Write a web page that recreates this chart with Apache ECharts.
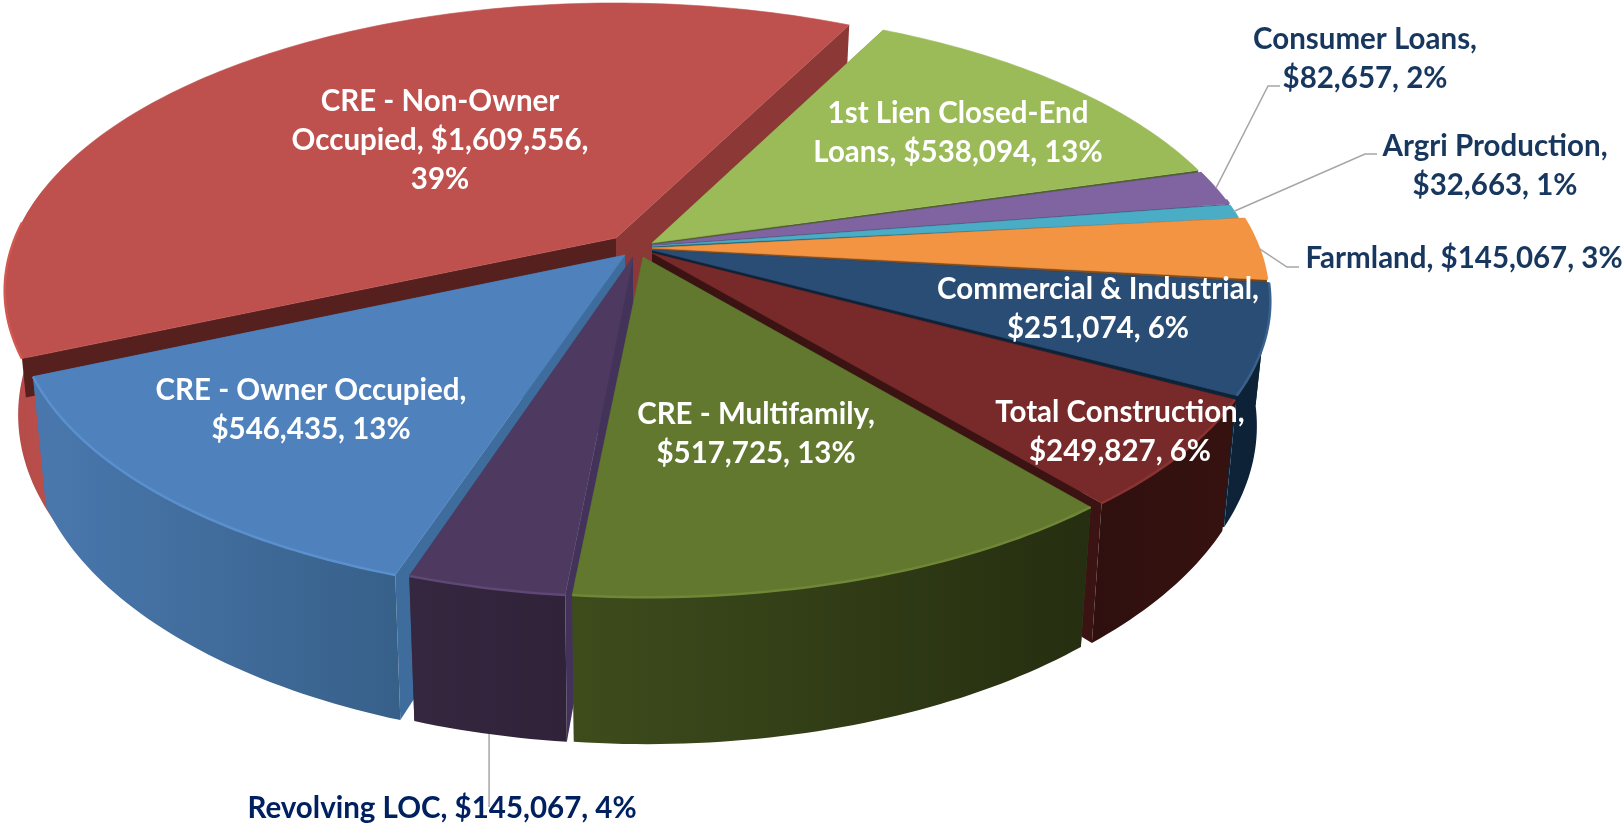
<!DOCTYPE html>
<html><head><meta charset="utf-8">
<style>html,body{margin:0;padding:0;background:#fff}#c{width:1624px;height:825px}</style>
<script src="https://cdn.jsdelivr.net/npm/echarts@6/dist/echarts.min.js"></script>
</head><body><div id="c"></div>
<script>
// ---- data (clockwise, CRE - Non-Owner first)
var categories = ['CRE - Non-Owner Occupied','1st Lien Closed-End Loans','Consumer Loans','Argri Production','Farmland','Commercial & Industrial','Total Construction','CRE - Multifamily','Revolving LOC','CRE - Owner Occupied'];
var values = [1609556,538094,82657,32663,145067,251074,249827,517725,145067,546435];
var labels = ['CRE - Non-Owner\nOccupied, $1,609,556,\n39%','1st Lien Closed-End\nLoans, $538,094, 13%','Consumer Loans,\n$82,657, 2%','Argri Production,\n$32,663, 1%','Farmland, $145,067, 3%','Commercial & Industrial,\n$251,074, 6%','Total Construction,\n$249,827, 6%','CRE - Multifamily,\n$517,725, 13%','Revolving LOC, $145,067, 4%','CRE - Owner Occupied,\n$546,435, 13%'];

// ---- projection of the tilted disc
var CX=651, CY=248, RX=600, RY=278, K=0.183, DEPTH=120, SHRINK=0.978;
var START_DEG=156.3;   // picture angle of the first slice's leading edge
var paintOrder=[0,1,2,3,4,5,6,9,8,7];
var shift=[[-36,-10],[-2,-5],[1,-3],[1,-2],[7,-2],[9,1],[7,5],[-4,9],[-11,9],[-25,8]];
var tipOffset=[[-35,-10],[1,-5],[1,-3],[1,-2],[1,0],[1,2],[1,5],[-8,9],[-18,9],[-26,7]];
var startDepth=[0.3,1,1,1,1,1,1,1,1,1];
var wallLead=[6,0,0,0,0,0,0,0,0,0];
var top_=['#BE504D','#9BBB59','#8064A2','#4BACC6','#F39443','#2A4D76','#772A29','#62782F','#4E3A60','#4F81BD'];
var rim=['#D2584F','#9BBB59','#8064A2','#4BACC6','#F39443','#3A608C','#8A3431','#6F8736','#5F4875','#5B90CF'];
var wallStops=[['#B44C49','#BB4E4B'],['#5F7136','#4E5E2C'],['#4C3B61','#403151'],['#256072','#256072'],['#7F4D20','#6F4218'],['#0F2338','#0C2036'],['#2F100F','#36120F'],['#3E4C1C','#252E10'],['#35273F','#2F2239'],['#4A78AE','#376089']];
var startWall=['#55201E','#5F7136','#403151','#256072','#7F4D20','#0F2338','#2F100F','#3E4C1C','#43335B','#3E6C9C'];
var endWall=['#8C3836','#4E5E2C','#403151','#256072','#7F4D20','#0E2238','#3A1312','#3E4C1C','#43335B','#3E6C9C'];
var labelPos=[[440,140],[958,133],[1365,59],[1495,166],[1464,258],[1098,309],[1120,432],[756,434],[442,808],[311,410]];
var labelColor=['#fff','#fff','#17375E','#17375E','#17375E','#fff','#fff','#fff','#002060','#fff'];
var leaders={2:{elbow:[[1268,86],[1280,86]]},3:{elbow:[[1365,154],[1377,154]]},4:{elbow:[[1287,267],[1299,267]]},8:{drop:807}};

var total=values.reduce(function(a,b){return a+b},0);
var edges=[START_DEG];
values.forEach(function(v){edges.push(edges[edges.length-1]+v/total*360)});
function P(t){var a=t*Math.PI/180,u=Math.cos(a),v=Math.sin(a),d=1-K*v;return [RX*u/d,RY*v/d,d];}
function T(i,t){var p=P(t);return [CX+shift[i][0]+p[0],CY+shift[i][1]+p[1]];}
function B(i,t){var p=P(t);return [CX+shift[i][0]+p[0]*SHRINK,CY+shift[i][1]+p[1]+DEPTH/p[2]];}
function tipT(i){return [CX+tipOffset[i][0],CY+tipOffset[i][1]];}
function tipB(i,f){return [CX+tipOffset[i][0],CY+tipOffset[i][1]+DEPTH*f];}
function norm(t){return ((t+10.5)%360+360)%360;}
function facing(t){return norm(t)<=201;}
function rimFacing(t){return norm(t)<=194;}
function arcAngles(i,lead){var s=edges[i]-(lead||0),a=[],n=Math.max(4,Math.ceil(edges[i+1]-s));for(var j=0;j<=n;j++)a.push(s+(edges[i+1]-s)*j/n);return a;}
function mix(a,b,f){return [a[0]+(b[0]-a[0])*f,a[1]+(b[1]-a[1])*f];}

function renderSlice(params,api){
  var i=api.value(1), ang=arcAngles(i), vis=arcAngles(i,wallLead[i]).filter(facing), rimAng=ang.filter(rimFacing), ch=[];
  var tt=ang.map(function(t){return T(i,t)});
  var s0=ang[0], s1=ang[ang.length-1], f=startDepth[i], outer=null;
  if(vis.length>1){
    var vt=vis.map(function(t){return T(i,t)}), vb=vis.map(function(t){return B(i,t)});
    var xs=vt.concat(vb).map(function(p){return p[0]}),x0=Math.min.apply(null,xs),x1=Math.max.apply(null,xs);
    outer={type:'polygon',shape:{points:vt.concat(vb.slice().reverse())},style:{fill:{type:'linear',x:x0,y:0,x2:x1,y2:0,global:true,colorStops:[{offset:0,color:wallStops[i][0]},{offset:1,color:wallStops[i][1]}]}}};
  }
  if(outer && wallLead[i]>0) ch.push(outer);
  ch.push({type:'polygon',shape:{points:[T(i,s0),mix(T(i,s0),B(i,s0),f),tipB(i,f),tipT(i)]},style:{fill:startWall[i]}});
  ch.push({type:'polygon',shape:{points:[T(i,s1),B(i,s1),tipB(i,1),tipT(i)]},style:{fill:endWall[i]}});
  if(outer && !(wallLead[i]>0)) ch.push(outer);
  ch.push({type:'polygon',shape:{points:[tipT(i)].concat(tt)},style:{fill:top_[i],stroke:top_[i],lineWidth:.6}});
  if(rimAng.length>1) ch.push({type:'polyline',shape:{points:rimAng.map(function(t){return T(i,t)})},style:{fill:null,stroke:rim[i],lineWidth:2.5}});
  return {type:'group',children:ch};
}
function renderLabel(params,api){
  var i=api.value(1), ch=[], L=leaders[i];
  if(L){
    var mid=(edges[i]+edges[i+1])/2;
    var pts=L.drop?[B(i,mid),[B(i,mid)[0],L.drop]]:[T(i,mid)].concat(L.elbow);
    ch.push({type:'polyline',shape:{points:pts},style:{fill:null,stroke:'#A6A6A6',lineWidth:1.5}});
  }
  ch.push({type:'text',style:{text:labels[i],x:labelPos[i][0],y:labelPos[i][1],textAlign:'center',textVerticalAlign:'middle',fill:labelColor[i],font:'bold 29.5px Lato',lineHeight:39}});
  return {type:'group',children:ch};
}
var chart=echarts.init(document.getElementById('c'),null,{renderer:'canvas'});
var mk=function(order){return order.map(function(i){return {name:categories[i],value:[values[i],i]}})};
chart.setOption({animation:false,backgroundColor:'#fff',tooltip:{show:false},series:[
 {type:'custom',coordinateSystem:'none',renderItem:renderSlice,data:mk(paintOrder),silent:true,z:1},
 {type:'custom',coordinateSystem:'none',renderItem:renderLabel,data:mk(categories.map(function(_,i){return i})),silent:true,z:2}
]});
</script></body></html>
